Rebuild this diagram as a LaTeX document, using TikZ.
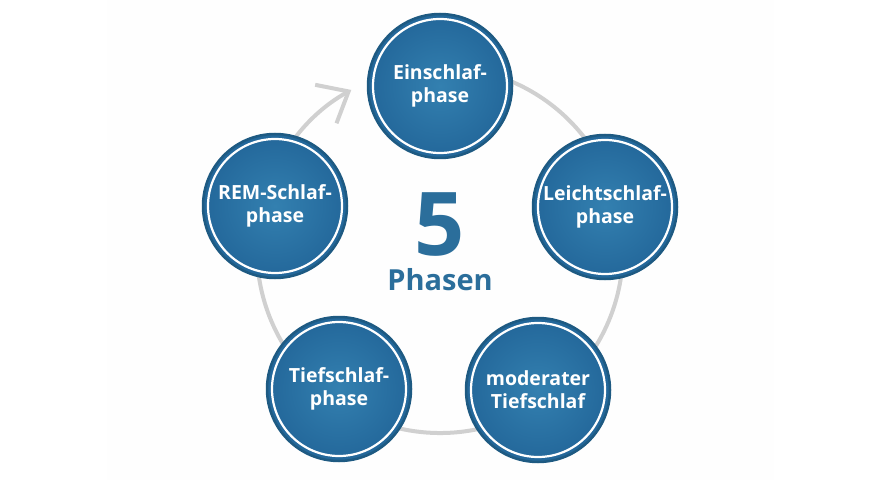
\documentclass[tikz,border=0pt]{standalone}
\usepackage{fontspec}
\setmainfont{Open Sans}
\usetikzlibrary{arrows.meta}
\definecolor{phasedark}{HTML}{1B5580}
\definecolor{phasemid}{HTML}{23679A}
\definecolor{phaselight}{HTML}{3380B0}
\definecolor{phaseedge}{HTML}{1E5A82}
\definecolor{ringgrey}{HTML}{D0D0D0}
\definecolor{numblue}{HTML}{2B6E9B}
\pgfdeclareradialshading{phaseshade}{\pgfpoint{0bp}{0bp}}{%
  color(0bp)=(phaselight); color(25bp)=(phasemid); color(50bp)=(phasedark)}
\begin{document}
\begin{tikzpicture}
[x=1pt,y=1pt,
  phasedecorate/.style={shape=circle,minimum size=144pt,inner sep=0pt,
    draw=phaseedge,line width=2.5pt,shading=phaseshade,align=center,
    text=white,font=\bfseries\fontsize{19.5}{23}\selectfont,
    path picture={\draw[white,line width=2.2pt]
      (path picture bounding box.center) circle (67pt);}},%
  ringdecorate/.style={draw=ringgrey,line width=4pt,line cap=round,
    -{Straight Barb[length=26pt,width=44pt]}}]
\useasboundingbox (0,0) rectangle (880,480);
\fill[black!0.5] (107,0) rectangle (774,480);
%% ring with arrow
\coordinate (ringcentre) at (440,230);
\draw[ringdecorate] (ringcentre) ++(80:183)
  arc[start angle=80,end angle=-241,radius=183];
%% phases
\foreach \nodename/\x/\y/\phasetext in {einschlaf/440/394/{Einschlaf-\\phase},
  leicht/605/273/{Leichtschlaf-\\phase}, moderat/538/90/{moderater\\Tiefschlaf},
  tief/339/91/{Tiefschlaf-\\phase}, rem/275/274/{REM-Schlaf-\\phase}}
{
  \node (\nodename) at (\x,\y) [phasedecorate] {\phasetext};
}
%% centre label
\node (five) at (440,225) [anchor=base,text=numblue,inner sep=0pt,
  text depth=0pt,font=\bfseries\fontsize{88}{88}\selectfont] {5};
\node (phasen) at (440,190) [anchor=base,text=numblue,inner sep=0pt,
  font=\bfseries\fontsize{29}{30}\selectfont] {Phasen};
\end{tikzpicture}
\end{document}
